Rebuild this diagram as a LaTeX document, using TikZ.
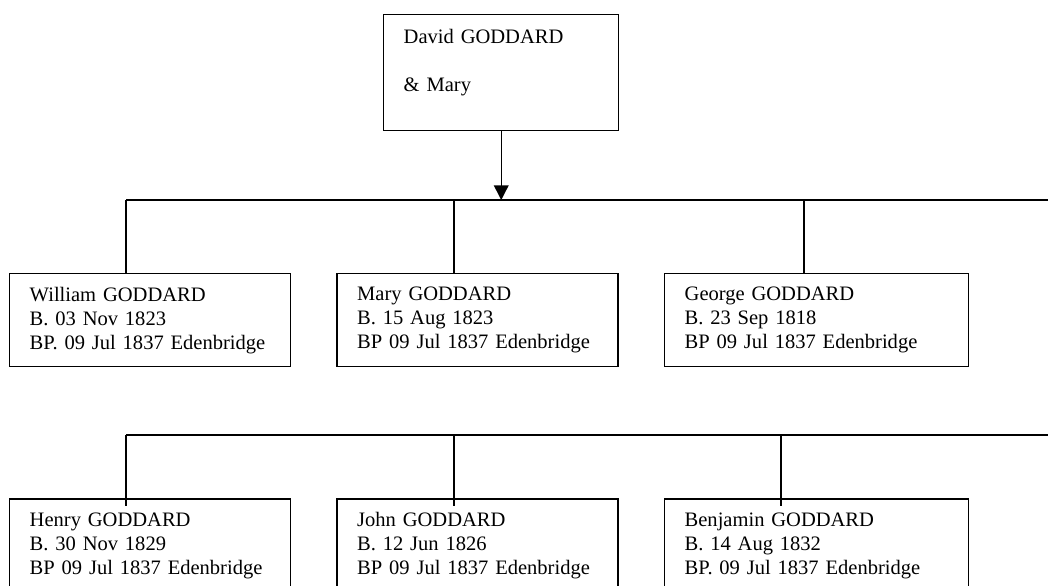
\documentclass[tikz,border=0pt]{standalone}
\usepackage{fontspec}
\setmainfont{Liberation Serif}
\usetikzlibrary{arrows.meta,positioning,calc}

\begin{document}
\begin{tikzpicture}[
  x=0.75pt, y=-0.75pt,
  line width=1.1pt,
  font=\fontsize{15.4pt}{18pt}\selectfont,
  parents/.style={draw, align=left, text width=146.25pt, inner xsep=15pt, inner ysep=0pt, minimum height=87pt, anchor=north west},
  person/.style={draw, align=left, text width=180.75pt, inner xsep=15pt, inner ysep=0pt, minimum height=69.75pt},
  wideperson/.style={person, text width=198pt}
]
  \useasboundingbox (0,0) rectangle (1048,585);

  \node[parents] (david) at (383,14) {David GODDARD\\\mbox{}\\\& Mary\\\mbox{}};

  \node[person, anchor=north west] (william) at (9,273) {William GODDARD\\B. 03 Nov 1823\\BP. 09 Jul 1837 Edenbridge};
  \node[person, right=33.75pt of william] (mary) {Mary GODDARD\\B. 15 Aug 1823\\BP 09 Jul 1837 Edenbridge};
  \node[wideperson, right=33.75pt of mary] (george) {George GODDARD\\B. 23 Sep 1818\\BP 09 Jul 1837 Edenbridge};

  \node[person, below=98.25pt of william] (henry) {Henry GODDARD\\B. 30 Nov 1829\\BP 09 Jul 1837 Edenbridge};
  \node[person, right=33.75pt of henry] (john) {John GODDARD\\B. 12 Jun 1826\\BP 09 Jul 1837 Edenbridge};
  \node[wideperson, right=33.75pt of john] (benjamin) {Benjamin GODDARD\\B. 14 Aug 1832\\BP. 09 Jul 1837 Edenbridge};

  % first family line
  \coordinate (dropW) at (126,200);
  \coordinate (dropM) at (454,200);
  \coordinate (dropG) at (804,200);
  \coordinate (railend) at (1048,200);
  \draw[-{Triangle[length=11pt,width=11pt]}] (david.south) -- (david.south |- dropW);
  \draw (dropW) -- (railend);
  \draw (dropW) -- (dropW |- william.north);
  \draw (dropM) -- (dropM |- mary.north);
  \draw (dropG) -- (dropG |- george.north);

  % second family line
  \coordinate (dropH) at (126,435);
  \coordinate (dropJ) at (454,435);
  \coordinate (dropB) at (781,435);
  \coordinate (lowend) at (1048,435);
  \draw (dropH) -- (lowend);
  \draw (dropH) -- ($(dropH |- henry.north)+(0,8)$);
  \draw (dropJ) -- ($(dropJ |- john.north)+(0,8)$);
  \draw (dropB) -- ($(dropB |- benjamin.north)+(0,8)$);
\end{tikzpicture}
\end{document}
